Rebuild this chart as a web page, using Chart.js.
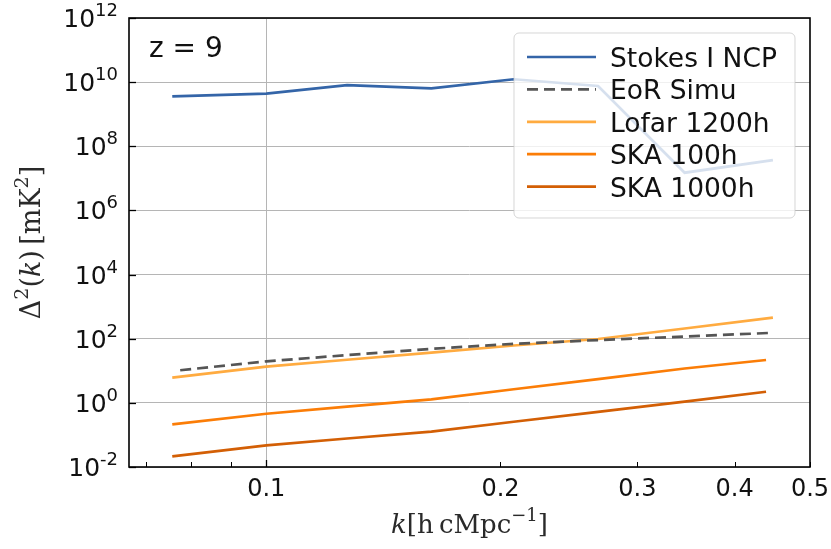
<!DOCTYPE html>
<html>
<head>
<meta charset="utf-8">
<script src="https://cdn.jsdelivr.net/npm/chart.js@4/dist/chart.umd.min.js"></script>
<style>
  html, body { margin: 0; padding: 0; background: #fff; }
  #wrap { width: 831px; height: 549px; }
</style>
</head>
<body>
<div id="wrap"><canvas id="ps" width="831" height="549"></canvas></div>
<script>
// power spectra at z = 9, k in h cMpc^-1, Delta^2 in mK^2
const kStokes = [0.0757, 0.1, 0.127, 0.163, 0.208, 0.267, 0.345, 0.448];
const stokesNCP = [3.6e9, 4.4e9, 8.1e9, 6.4e9, 1.23e10, 7.6e9, 1.5e7, 3.7e7];
const kEoR = [0.0775, 0.1, 0.127, 0.163, 0.208, 0.267, 0.345, 0.443];
const eorSimu = [10.4, 19.7, 30.8, 48.4, 69.3, 91, 117, 151];
const kLofar = [0.0757, 0.1, 0.127, 0.163, 0.208, 0.267, 0.345, 0.448];
const lofar1200h = [6.1, 13.4, 22.1, 36.9, 61.4, 98, 208, 452];
const kSKA = [0.0757, 0.1, 0.127, 0.163, 0.208, 0.267, 0.345, 0.439];
const ska100h = [0.214, 0.458, 0.763, 1.29, 2.66, 5.53, 11.8, 21.7];
const ska1000h = [0.0215, 0.0474, 0.0773, 0.127, 0.258, 0.526, 1.09, 2.22];

const xTicks = [0.07, 0.08, 0.09, 0.1, 0.2, 0.3, 0.4, 0.5];
const xTickLabels = ['', '', '', '0.1', '0.2', '0.3', '0.4', '0.5'];
const xGridAt = [0.1];
const yTicks = [1e-2, 1e0, 1e2, 1e4, 1e6, 1e8, 1e10, 1e12];
const yTickExp = ['-2', '0', '2', '4', '6', '8', '10', '12'];

const SANS = '"DejaVu Sans", sans-serif';
const SERIF = '"DejaVu Serif", "Liberation Serif", serif';

const pts = (ks, vs) => ks.map((k, i) => ({ x: k, y: vs[i] }));

function line(label, ks, vs, color, dash) {
    return {
        label, data: pts(ks, vs), borderColor: color, backgroundColor: color,
        borderWidth: 2.7, borderDash: dash || [], pointRadius: 0, tension: 0, fill: false
    };
}

// mixed-font text: runs of [text, font, dy]
function drawRuns(ctx, runs, x, y, align) {
    let w = 0;
    runs.forEach(r => { ctx.font = r[1]; w += ctx.measureText(r[0]).width; });
    let cx = align === 'center' ? x - w / 2 : align === 'right' ? x - w : x;
    runs.forEach(r => {
        ctx.font = r[1];
        ctx.fillText(r[0], cx, y + (r[2] || 0));
        cx += ctx.measureText(r[0]).width;
    });
}

const decorations = {
    id: 'decorations',
    afterDatasetsDraw(chart) {
        const ctx = chart.ctx, ca = chart.chartArea;
        const xs = chart.scales.x, ys = chart.scales.y;
        ctx.save();
        ctx.fillStyle = '#000';
        ctx.textAlign = 'left';
        ctx.textBaseline = 'alphabetic';

        // inward ticks
        ctx.strokeStyle = '#000';
        xTicks.forEach(v => {
            const px = Math.round(xs.getPixelForValue(v)) + 0.5;
            const len = xGridAt.includes(v) ? 7 : 5;
            ctx.lineWidth = xGridAt.includes(v) ? 1.3 : 1;
            ctx.beginPath(); ctx.moveTo(px, ca.bottom); ctx.lineTo(px, ca.bottom - len); ctx.stroke();
        });
        ctx.lineWidth = 1.3;
        yTicks.forEach(v => {
            const py = Math.round(ys.getPixelForValue(v)) + 0.5;
            ctx.beginPath(); ctx.moveTo(ca.left, py); ctx.lineTo(ca.left + 7, py); ctx.stroke();
        });

        // frame
        ctx.lineWidth = 1.6;
        ctx.strokeRect(ca.left, ca.top, ca.right - ca.left, ca.bottom - ca.top);

        // y tick labels 10^n
        ctx.fillStyle = '#111';
        yTicks.forEach((v, i) => {
            const py = ys.getPixelForValue(v);
            drawRuns(ctx, [['10', '25px ' + SANS], [yTickExp[i], '18px ' + SANS, -11]], ca.left - 11, py + 9, 'right');
        });

        // redshift tag
        ctx.font = '28px ' + SANS;
        ctx.fillText('z = 9', ca.left + 20, ca.top + 39);

        // legend
        const ds = chart.data.datasets;
        const bw = 281, bh = 185, bx = ca.right - 15 - bw, by = ca.top + 15;
        ctx.beginPath();
        ctx.roundRect(bx, by, bw, bh, 5);
        ctx.fillStyle = 'rgba(255,255,255,0.8)';
        ctx.fill();
        ctx.strokeStyle = 'rgba(204,204,204,0.8)';
        ctx.lineWidth = 1;
        ctx.stroke();
        ds.forEach((d, i) => {
            const cy = by + 24 + i * 32.4;
            ctx.strokeStyle = d.borderColor;
            ctx.lineWidth = 2.7;
            ctx.setLineDash(d.borderDash || []);
            ctx.beginPath(); ctx.moveTo(bx + 13, cy); ctx.lineTo(bx + 82, cy); ctx.stroke();
            ctx.setLineDash([]);
            ctx.fillStyle = '#111';
            ctx.font = '26.5px ' + SANS;
            ctx.fillText(d.label, bx + 96, cy + 10);
        });

        // axis titles
        ctx.fillStyle = '#2a2a2a';
        let f = '26px ' + SERIF, fi = 'italic 26px ' + SERIF, fs = '18px ' + SERIF;
        drawRuns(ctx, [['k', fi], ['[', f], ['h\u2009cMpc', f], ['\u22121', fs, -12], [']', f]],
            (ca.left + ca.right) / 2, ca.bottom + 66, 'center');
        f = '27px ' + SERIF; fi = 'italic 27px ' + SERIF; fs = '19px ' + SERIF;
        ctx.translate(40, (ca.top + ca.bottom) / 2);
        ctx.rotate(-Math.PI / 2);
        drawRuns(ctx, [['\u0394', f], ['2', fs, -12], ['(', f], ['k', fi], [')', f], ['\u2009[mK', f], ['2', fs, -12], [']', f]],
            0, 0, 'center');
        ctx.restore();
    }
};

new Chart(document.getElementById('ps'), {
    type: 'line',
    data: {
        datasets: [
            line('Stokes I NCP', kStokes, stokesNCP, '#3465a8'),
            line('EoR Simu', kEoR, eorSimu, '#555555', [11, 6]),
            line('Lofar 1200h', kLofar, lofar1200h, '#ffab40'),
            line('SKA 100h', kSKA, ska100h, '#fb7d07'),
            line('SKA 1000h', kSKA, ska1000h, '#d35f05')
        ]
    },
    options: {
        responsive: false,
        animation: false,
        devicePixelRatio: 1,
        layout: { padding: { left: 0, right: 21, top: 18, bottom: 0 } },
        plugins: { legend: { display: false }, tooltip: { enabled: false } },
        scales: {
            x: {
                type: 'logarithmic', min: 0.0666, max: 0.5,
                afterBuildTicks: s => { s.ticks = xTicks.map(v => ({ value: v })); },
                afterFit: s => { s.height = 82; s.paddingLeft = s.paddingRight = 0; },
                ticks: {
                    autoSkip: false, maxRotation: 0, padding: 8, color: '#111',
                    font: { family: SANS, size: 24 },
                    callback: (v, i) => xTickLabels[i]
                },
                grid: {
                    drawTicks: false,
                    color: c => c.tick && xGridAt.includes(c.tick.value) ? '#b5b5b5' : 'rgba(0,0,0,0)',
                    lineWidth: 1
                },
                border: { display: false }
            },
            y: {
                type: 'logarithmic', min: 1e-2, max: 1e12,
                afterBuildTicks: s => { s.ticks = yTicks.map(v => ({ value: v })); },
                afterFit: s => { s.width = 129; s.paddingTop = s.paddingBottom = 0; },
                ticks: { display: false },
                grid: { drawTicks: false, color: '#b5b5b5', lineWidth: 1 },
                border: { display: false }
            }
        }
    },
    plugins: [decorations]
});
</script>
</body>
</html>
